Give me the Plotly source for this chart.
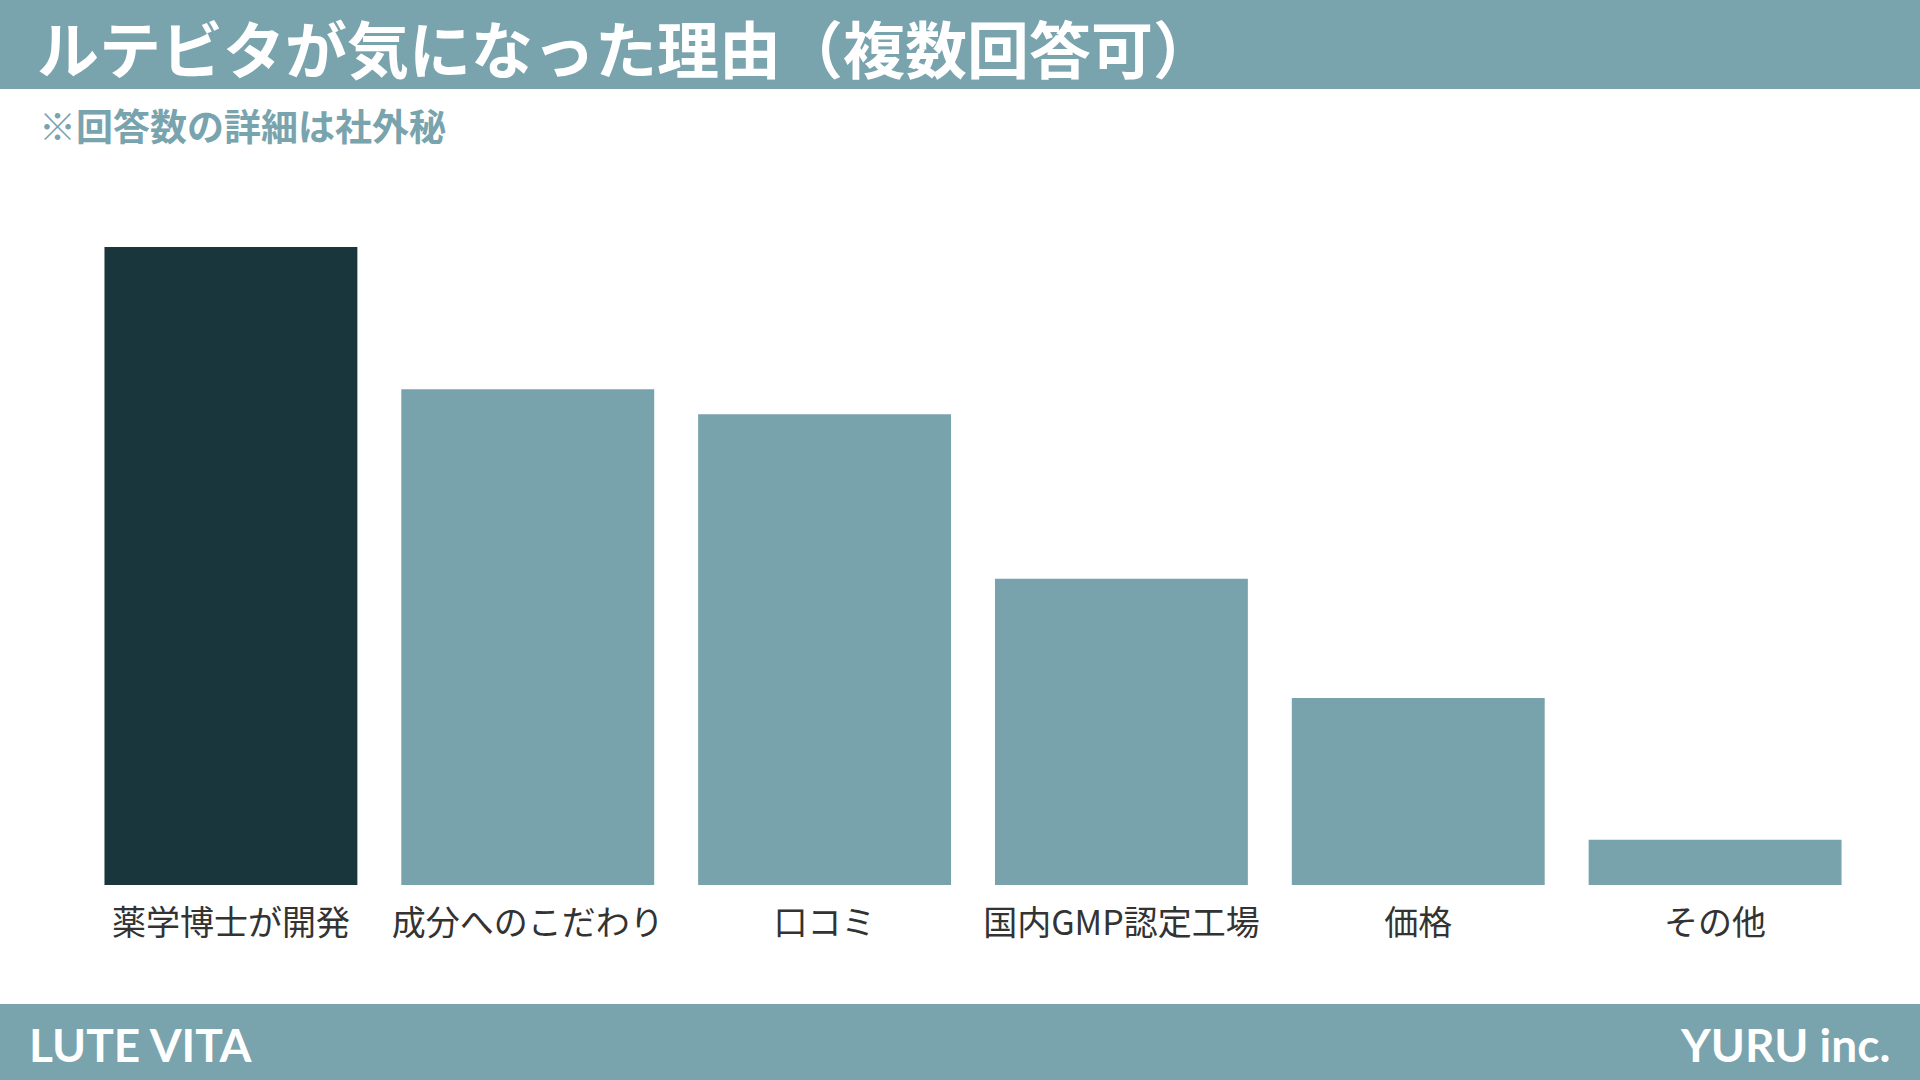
import plotly.graph_objects as go

categories = ["薬学博士が開発", "成分へのこだわり", "口コミ", "国内GMP認定工場", "価格", "その他"]
values = [100, 77.7, 73.8, 48.0, 29.3, 7.1]
bar_colors = ["#19363c", "#79a3ac", "#79a3ac", "#79a3ac", "#79a3ac", "#79a3ac"]

title_text = "ルテビタが気になった理由（複数回答可）"
subtitle_text = "※回答数の詳細は社外秘"
footer_left = "LUTE VITA"
footer_right = "YURU inc."

W, H = 1920, 1080
band = "#79a3ad"
jp = "Noto Sans CJK JP, Noto Sans, sans-serif"
latin = "Lato, Roboto, sans-serif"

fig = go.Figure(go.Bar(
    x=categories, y=values,
    marker=dict(color=bar_colors, line=dict(width=0)),
    hoverinfo="skip",
))

fig.update_layout(
    width=W, height=H,
    margin=dict(l=0, r=0, t=0, b=0),
    paper_bgcolor="white", plot_bgcolor="white",
    showlegend=False,
    bargap=0.148,
    xaxis=dict(
        domain=[82.5 / W, 1863.5 / W],
        showgrid=False, zeroline=False, showline=False,
        ticks="outside", ticklen=8, tickcolor="rgba(0,0,0,0)",
        tickfont=dict(family=jp, size=34, color="#333333"),
    ),
    yaxis=dict(
        domain=[(H - 885) / H, (H - 247) / H],
        range=[0, 100],
        visible=False,
    ),
    shapes=[
        dict(type="rect", xref="paper", yref="paper", x0=0, x1=1,
             y0=1 - 89 / H, y1=1, fillcolor=band, line=dict(width=0), layer="below"),
        dict(type="rect", xref="paper", yref="paper", x0=0, x1=1,
             y0=0, y1=76 / H, fillcolor=band, line=dict(width=0), layer="below"),
    ],
    annotations=[
        dict(text="<b>" + title_text + "</b>", xref="paper", yref="paper",
             x=35 / W, y=1 - 47 / H, xanchor="left", yanchor="middle",
             showarrow=False, font=dict(family=jp, size=62, color="white")),
        dict(text="<b>" + subtitle_text + "</b>", xref="paper", yref="paper",
             x=37 / W, y=1 - 125 / H, xanchor="left", yanchor="middle",
             showarrow=False, font=dict(family=jp, size=37, color="#79a3ad")),
        dict(text="<b>" + footer_left + "</b>", xref="paper", yref="paper",
             x=27 / W, y=1 - 1044 / H, xanchor="left", yanchor="middle",
             showarrow=False, font=dict(family=latin, size=46, color="white")),
        dict(text="<b>" + footer_right + "</b>", xref="paper", yref="paper",
             x=1892 / W, y=1 - 1044 / H, xanchor="right", yanchor="middle",
             showarrow=False, font=dict(family=latin, size=46, color="white")),
    ],
)

fig.write_html("out.html", config={"displayModeBar": False},
               post_script="document.body.style.margin='0';")
